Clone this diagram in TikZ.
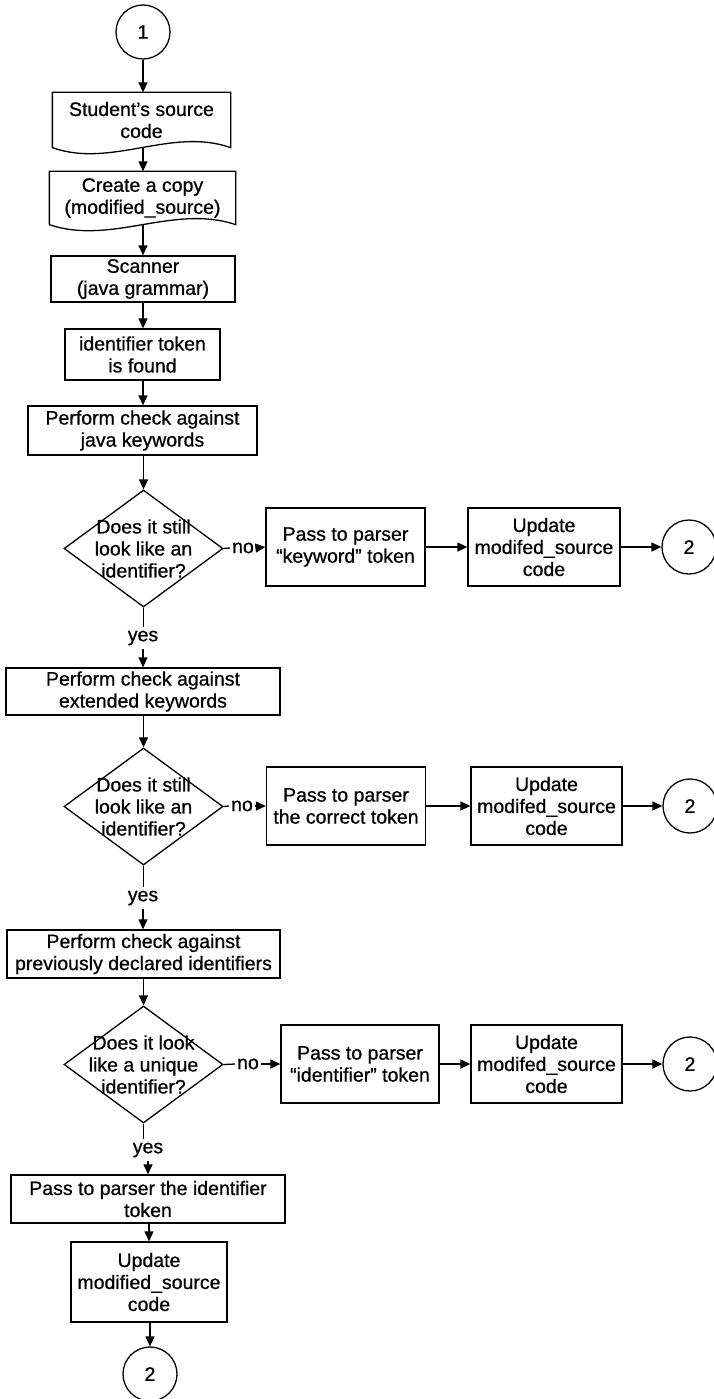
\documentclass[tikz,border=0pt]{standalone}
\usepackage{fontspec}
\setmainfont{Liberation Sans}
\newfontfamily\flowfont{Liberation Sans}[FakeBold=0.7,Ligatures=TeX]
\usetikzlibrary{arrows.meta,shapes.geometric}

\begin{document}
\begin{tikzpicture}[x=1pt,y=-1pt,
  line width=1.3pt,
  font=\flowfont\fontsize{19.5}{22}\selectfont,
  >={Triangle[length=10pt,width=9pt]},
  box/.style={draw, rectangle, inner sep=0pt, align=center},
  doctext/.style={rectangle, inner sep=0pt, align=center},
  conn/.style={draw, circle, inner sep=0pt, minimum size=54pt},
  decision/.style={draw, diamond, inner sep=0pt, minimum width=159pt, minimum height=117pt},
  lbl/.style={inner sep=1.5pt},
  ylbl/.style={inner sep=3pt}]

% page
\path[use as bounding box, fill=white] (0,0) rectangle (714,1399);

% ---- main column ----
\node[conn] (c1) at (143,32) {1};

\node[doctext, minimum width=177pt, minimum height=54pt] (src) at (141.5,120) {Student’s source\\code};
\draw (src.south west) -- (src.north west) -- (src.north east) -- (src.south east)
      .. controls +(-59,-21) and +(59,21) .. (src.south west);

\node[doctext, minimum width=185pt, minimum height=52pt] (copy) at (142.5,198) {Create a copy\\(modified\_source)};
\draw (copy.south west) -- (copy.north west) -- (copy.north east) -- (copy.south east)
      .. controls +(-62,-21) and +(62,21) .. (copy.south west);

\node[box, minimum width=184pt, minimum height=46pt] (scan) at (143,279) {Scanner\\(java grammar)};
\node[box, minimum width=155pt, minimum height=51pt] (ident) at (142.5,354.5) {identifier token\\is found};
\node[box, minimum width=229pt, minimum height=49pt] (java) at (142.5,430.5) {Perform check against\\java keywords};

\node[decision, label={[align=center]center:Does it still\\look like an\\identifier?}] (d1) at (143.5,548.5) {};
\node[lbl] (no1) at (243,548) {no};
\node[box, minimum width=159pt, minimum height=78pt] (p1) at (345.5,547) {Pass to parser\\“keyword” token};
\node[box, minimum width=152pt, minimum height=78pt] (u1) at (544,547) {Update\\modifed\_source\\code};
\node[conn] (e1) at (689,547) {2};
\node[ylbl] (yes1) at (143,638) {yes};

\node[box, minimum width=274pt, minimum height=47pt] (ext) at (143,691.5) {Perform check against\\extended keywords};

\node[decision, label={[align=center]center:Does it still\\look like an\\identifier?}] (d2) at (143.5,806.5) {};
\node[lbl] (no2) at (242,806) {no};
\node[box, minimum width=159pt, minimum height=78pt] (p2) at (346,806) {Pass to parser\\the correct token};
\node[box, minimum width=151pt, minimum height=78pt] (u2) at (546.5,806) {Update\\modifed\_source\\code};
\node[conn] (e2) at (690,806) {2};
\node[ylbl] (yes2) at (143,898) {yes};

\node[box, minimum width=273pt, minimum height=48pt] (prev) at (143.5,954) {Perform check against\\previously declared identifiers};

\node[decision, label={[align=center]center:Does it look\\like a unique\\identifier?}] (d3) at (143.5,1064.5) {};
\node[lbl] (no3) at (248,1064) {no};
\node[box, minimum width=158pt, minimum height=78pt] (p3) at (360,1064) {Pass to parser\\“identifier” token};
\node[box, minimum width=151pt, minimum height=78pt] (u3) at (546.5,1064) {Update\\modifed\_source\\code};
\node[conn] (e3) at (690,1064) {2};
\node[ylbl] (yes3) at (148,1150) {yes};

\node[box, minimum width=274pt, minimum height=48pt] (ptok) at (148,1199) {Pass to parser the identifier\\token};
\node[box, minimum width=156pt, minimum height=80pt] (ubot) at (149,1282) {Update\\modified\_source\\code};
\node[conn] (e4) at (150,1374) {2};

% ---- connectors ----
\draw[->] (c1.south) -- (c1.south |- src.north);
\draw[->] (src.south -| c1.south) -- (c1.south |- copy.north);
\draw[->] (copy.south -| c1.south) -- (c1.south |- scan.north);
\draw[->] (scan.south -| c1.south) -- (c1.south |- ident.north);
\draw[->] (ident.south -| c1.south) -- (c1.south |- java.north);
\draw[->] (java.south -| d1.north) -- (d1.north);

\draw (d1.east) -- (no1.west);
\draw[->] (no1.east) -- (p1.west);
\draw[->] (p1.east) -- (u1.west);
\draw[->] (u1.east) -- (e1.west);
\draw (d1.south) -- (d1.south |- yes1.north);
\draw[->] (yes1.south) -- (yes1.south |- ext.north);

\draw[->] (ext.south -| d2.north) -- (d2.north);
\draw (d2.east) -- (no2.west);
\draw[->] (no2.east) -- (p2.west);
\draw[->] (p2.east) -- (u2.west);
\draw[->] (u2.east) -- (e2.west);
\draw (d2.south) -- (d2.south |- yes2.north);
\draw[->] (yes2.south) -- (yes2.south |- prev.north);

\draw[->] (prev.south -| d3.north) -- (d3.north);
\draw (d3.east) -- (no3.west);
\draw[->] (no3.east) -- (p3.west);
\draw[->] (p3.east) -- (u3.west);
\draw[->] (u3.east) -- (e3.west);
\draw (d3.south) -- (d3.south |- yes3.north);
\draw[->] (yes3.south) -- (yes3.south |- ptok.north);

\draw[->] (ptok.south -| ubot.north) -- (ubot.north);
\draw[->] (ubot.south -| e4.north) -- (e4.north);
\end{tikzpicture}
\end{document}
